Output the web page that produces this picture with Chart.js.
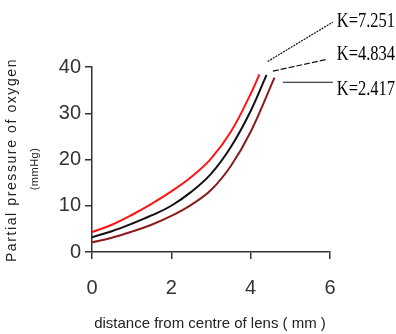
<!DOCTYPE html>
<html>
<head>
<meta charset="utf-8">
<script src="https://cdn.jsdelivr.net/npm/chart.js@4/dist/chart.umd.min.js"></script>
<style>
  html, body { margin: 0; padding: 0; background: #fff; }
  #wrap { width: 396px; height: 334px; }
</style>
</head>
<body>
<div id="wrap"><canvas id="chartO2"></canvas></div>
<script>
// distance from centre of lens (mm) and partial pressure (mmHg)
var redX = [0, 0.5, 1, 1.5, 2, 2.5, 3, 3.5, 4, 4.22]
var redY = [4.3, 5.9, 8.0, 10.4, 13.1, 16.2, 20.2, 26.0, 34.2, 38.4]
var blackX = [0, 0.5, 1, 1.5, 2, 2.5, 3, 3.5, 4, 4.4]
var blackY = [3.2, 4.5, 6.1, 7.9, 10.0, 13.0, 16.9, 22.7, 30.5, 38.3]
var darkX = [0, 0.5, 1, 1.5, 2, 2.5, 3, 3.5, 4, 4.6]
var darkY = [2.1, 3.1, 4.4, 5.9, 7.8, 10.2, 13.4, 18.6, 26.0, 37.7]
var kLabels = ['K=7.251', 'K=4.834', 'K=2.417']
var xTicks = [0, 2, 4, 6]
var yTicks = [0, 10, 20, 30, 40]

function toPoints(xs, ys) {
    return xs.map(function (x, i) { return { x: x, y: ys[i] } })
}

// leader lines and labels, in data units
var leaders = [
    { from: [4.43, 41.2], to: [6.07, 49.7], label: [6.17, 50.0], dash: [2, 1] },
    { from: [4.56, 39.1], to: [5.94, 41.7], label: [6.17, 42.8], dash: [6, 2] },
    { from: [4.81, 36.7], to: [6.07, 36.7], label: [6.17, 35.3], dash: [] }
]

const extras = {
    id: 'extras',
    afterDraw(chart) {
        const ctx = chart.ctx
        const xs = chart.scales.x
        const ys = chart.scales.y
        ctx.save()
        // K labels
        ctx.strokeStyle = '#111'
        ctx.lineWidth = 1.2
        leaders.forEach(function (l, i) {
            ctx.setLineDash(l.dash)
            ctx.beginPath()
            ctx.moveTo(xs.getPixelForValue(l.from[0]), ys.getPixelForValue(l.from[1]))
            ctx.lineTo(xs.getPixelForValue(l.to[0]), ys.getPixelForValue(l.to[1]))
            ctx.stroke()
            ctx.save()
            ctx.translate(xs.getPixelForValue(l.label[0]), ys.getPixelForValue(l.label[1]))
            ctx.scale(0.75, 1)
            ctx.font = '22px "Liberation Serif"'
            ctx.fillStyle = '#000'
            ctx.textAlign = 'left'
            ctx.textBaseline = 'middle'
            ctx.fillText(kLabels[i], 0, 0)
            ctx.restore()
        })
        ctx.setLineDash([])
        // axis titles
        ctx.fillStyle = '#222'
        ctx.textAlign = 'center'
        ctx.textBaseline = 'middle'
        ctx.font = '15px "Liberation Sans"'
        ctx.fillText('distance from centre of lens ( mm )', 210, 324)
        ctx.save()
        ctx.translate(12, 160)
        ctx.rotate(-Math.PI / 2)
        ctx.font = '14px "Liberation Sans"'
        ctx.letterSpacing = '1.6px'
        ctx.fillText('Partial pressure of oxygen', 0, 0)
        ctx.restore()
        ctx.save()
        ctx.translate(35, 169)
        ctx.rotate(-Math.PI / 2)
        ctx.font = '11px "Liberation Sans"'
        ctx.letterSpacing = '0.5px'
        ctx.fillText('(mmHg)', 0, 0)
        ctx.restore()
        ctx.restore()
    }
}

const ctx = document.getElementById('chartO2').getContext('2d');
new Chart(ctx, {
    type: 'line',
    data: {
        datasets: [
            { data: toPoints(redX, redY), borderColor: '#ff1414', borderWidth: 2 },
            { data: toPoints(blackX, blackY), borderColor: '#111111', borderWidth: 2 },
            { data: toPoints(darkX, darkY), borderColor: '#8b1c1c', borderWidth: 2 }
        ]
    },
    options: {
        responsive: true,
        maintainAspectRatio: false,
        animation: false,
        elements: {
            point: { radius: 0 },
            line: { tension: 0.4, fill: false }
        },
        layout: { padding: { left: 0, top: 67, right: 66, bottom: 0 } },
        plugins: {
            legend: { display: false },
            tooltip: { enabled: false }
        },
        scales: {
            x: {
                type: 'linear',
                min: 0,
                max: 6,
                afterBuildTicks: function (s) { s.ticks = xTicks.map(function (v) { return { value: v } }) },
                afterFit: function (s) { s.height = 82 },
                grid: { drawOnChartArea: false, tickLength: 7, color: '#333', lineWidth: 1.5 },
                border: { color: '#333', width: 1.5 },
                ticks: { color: '#333', padding: 17, maxRotation: 0, font: { family: 'Liberation Sans', size: 20 } }
            },
            y: {
                min: 0,
                max: 40,
                afterBuildTicks: function (s) { s.ticks = yTicks.map(function (v) { return { value: v } }) },
                afterFit: function (s) { s.width = 92 },
                grid: { drawOnChartArea: false, tickLength: 7, color: '#333', lineWidth: 1.5 },
                border: { color: '#333', width: 1.5 },
                ticks: { color: '#333', padding: 4, font: { family: 'Liberation Sans', size: 20 } }
            }
        }
    },
    plugins: [extras]
});
</script>
</body>
</html>
